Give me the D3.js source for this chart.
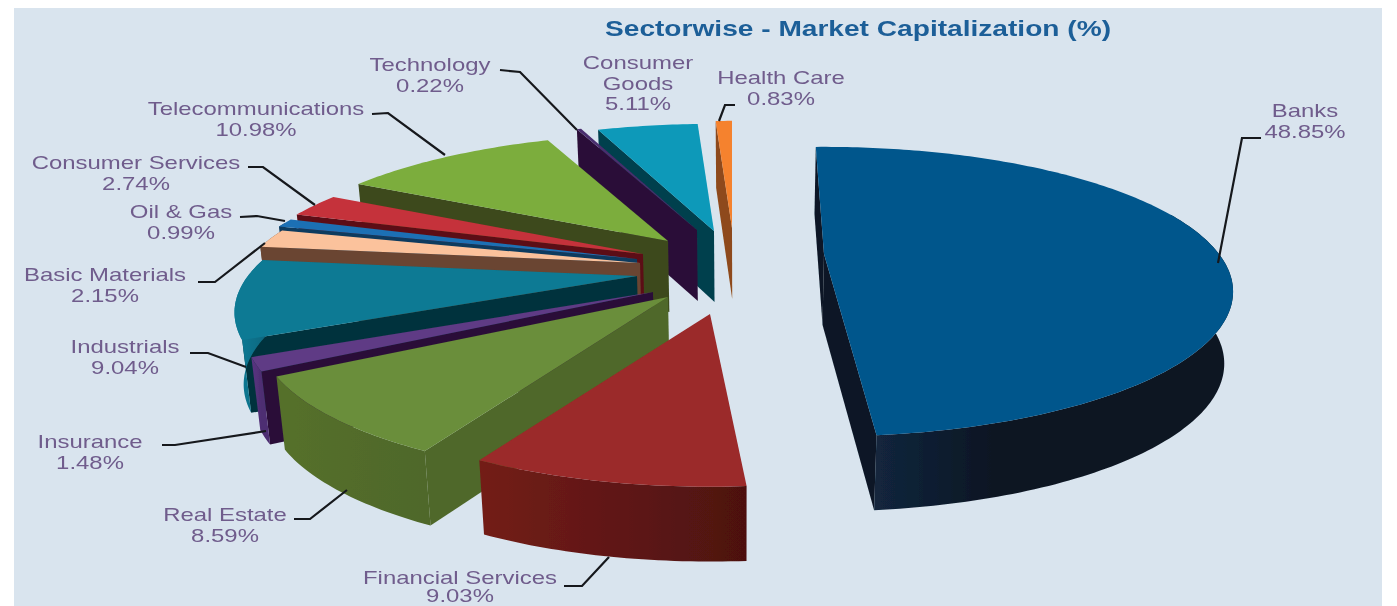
<!DOCTYPE html>
<html>
<head>
<meta charset="utf-8">
<title>Sectorwise - Market Capitalization</title>
<script src="https://cdn.jsdelivr.net/npm/d3@7"></script>
<style>
  html, body { margin: 0; padding: 0; background: #fff; overflow: hidden; }
  text { font-family: "Liberation Sans", Arial, sans-serif; }
</style>
</head>
<body>
<div id="chart"></div>
<script>
// Data, clockwise from twelve o'clock
var sectors = ["Banks", "Financial Services", "Real Estate", "Insurance", "Industrials",
  "Basic Materials", "Oil & Gas", "Consumer Services", "Telecommunications",
  "Technology", "Consumer Goods", "Health Care"];
var shares = [48.85, 9.03, 8.59, 1.48, 9.04, 2.15, 0.99, 2.74, 10.98, 0.22, 5.11, 0.83];

// Slice colours: top face, outer wall (left and right of the gradient), cut wall
var topColors = ["#04568c", "#9b2929", "#6a8e3a", "#5f3a85", "#0a7a94", "#fbc29c",
  "#1f6fb4", "#c5303a", "#7bad3c", "#4a2d6e", "#0899b9", "#f5822f"];
var wallLeft = ["#12253c", "#731d19", "#55702c", "#5a3583", "#0a7c97", "#6b4430",
  "#0d3a5e", "#5c1016", "#3c4a1c", "#2c1138", "#053f4e", "#8e4a1a"];
var wallRight = ["#0b1522", "#4d1110", "#4f6829", "#4e2d72", "#0a6a82", "#6b4430",
  "#0d3a5e", "#5c1016", "#3c4a1c", "#2c1138", "#053f4e", "#8e4a1a"];
var cutColors = ["#0c1828", "#5a1512", "#4f6829", "#2b1038", "#04333c", "#6b4430",
  "#0d3a5e", "#5c1016", "#3c4a1c", "#2c1138", "#053f4e", "#8e4a1a"];

// How far each slice is pulled out of the pie, in pixels, plus small hand corrections
var pieCentre = [730, 270];
var explodeX = [94, -20, -62, -77, -93, -90, -93, -87, -62, -33, -16, 2];
var explodeY = [-16, 44, 27, 22, 6, -7, -11, -16, -29, -40, -39, -42];
var sliceScale = [1, 0.96, 1, 1, 0.985, 1, 1, 1, 1, 1, 1, 1];
var sliceTurn = [-1.5, 0, 0, 0, 0, 0, 0, 0, 0, 0, 0, 0];

// Labels: centre of the text, first baseline, then the leader line
var labelLines = [["Banks"], ["Financial Services"], ["Real Estate"], ["Insurance"], ["Industrials"],
  ["Basic Materials"], ["Oil & Gas"], ["Consumer Services"], ["Telecommunications"],
  ["Technology"], ["Consumer", "Goods"], ["Health Care"]];
var labelX = [1305, 460, 225, 90, 125, 105, 181, 136, 256, 430, 638, 781];
var labelY = [117, 584, 521, 448, 353, 281, 218, 169, 115, 71, 69, 84];
var labelGap = [20.5, 18, 20.5, 20.5, 20.5, 20.5, 20.5, 20.5, 20.5, 20.5, 20.5, 20.5];
var leaders = [
  [[1218, 263], [1242, 138], [1261, 138]],
  [[609, 557], [582, 586], [564, 586]],
  [[347, 490], [310, 519], [294, 519]],
  [[266, 431], [175, 445], [162, 445]],
  [[246, 367], [208, 353], [190, 353]],
  [[265, 243], [215, 282], [198, 282]],
  [[285, 221], [257, 216], [240, 217]],
  [[315, 205], [263, 167], [248, 167]],
  [[445, 155], [388, 113], [372, 114]],
  [[577, 130], [520, 72], [500, 70]],
  [[719, 121], [725, 105], [735, 105]]
];

var width = 1397, height = 606;
var rx = 395, ry = 135, tilt = 0.26, depth = 71;
var wallVanishX = 743, wallConverge = 0.018;

var svg = d3.select("#chart").append("svg")
  .attr("width", width)
  .attr("height", height)
  .style("display", "block");

svg.append("rect")
  .attr("x", 14).attr("y", 8)
  .attr("width", 1368).attr("height", height - 8)
  .attr("fill", "#d9e4ee");

var defs = svg.append("defs");
defs.append("filter").attr("id", "soft")
  .append("feGaussianBlur").attr("stdDeviation", 0.6);
defs.append("filter").attr("id", "softer")
  .append("feGaussianBlur").attr("stdDeviation", 0.35);

var pie = d3.pie().sort(null).value(function(d) { return d; });
var slices = pie(shares);
var line = d3.line();

// Perspective view of a point on the pie disc; h is how far below the top face
var project = function(a, r, i, h) {
  var t = a + sliceTurn[i] * Math.PI / 180;
  var s = r * sliceScale[i];
  var u = Math.sin(t) * s, v = -Math.cos(t) * s, w = 1 - tilt * v;
  var x = pieCentre[0] + explodeX[i] + rx * u / w;
  var y = pieCentre[1] + explodeY[i] + ry * v / w;
  return [x + h * (wallVanishX - x) * wallConverge, y + h * (depth + 4 * v)];
};

// Rim of a slice, keeping only the part that can face the viewer when frontOnly is set
var arcPoints = function(d, i, h, frontOnly) {
  var n = Math.max(2, Math.ceil((d.endAngle - d.startAngle) * 60));
  var angles = d3.range(n + 1).map(function(k) {
    return d.startAngle + (d.endAngle - d.startAngle) * k / n;
  });
  if (frontOnly) {
    angles = angles.filter(function(a) { return Math.cos(a) < 0.3; });
  }
  return angles.map(function(a) { return project(a, 1, i, h); });
};

var pieGroup = svg.append("g").attr("filter", "url(#soft)");

// Back slices first, Banks last
var drawOrder = [11, 10, 9, 8, 7, 6, 5, 4, 3, 2, 1, 0];

drawOrder.forEach(function(i) {
  var d = slices[i];
  var g = pieGroup.append("g").attr("class", "slice");
  var topArc = arcPoints(d, i, 0, false);
  var wallTop = arcPoints(d, i, 0, true);
  var wallBottom = arcPoints(d, i, 1, true);
  var tip = project(0, 0, i, 0), tipLow = project(0, 0, i, 1);

  // The two cut walls, only when they face the viewer
  [d.startAngle, d.endAngle].forEach(function(a, side) {
    var rim = project(a, 1, i, 0), rimLow = project(a, 1, i, 1);
    var facing = side === 0 ? rim[0] < tip[0] : rim[0] > tip[0];
    if (facing) {
      g.append("path")
        .attr("d", line([tip, rim, rimLow, tipLow]) + "Z")
        .attr("fill", cutColors[i]);
    }
  });

  // Outer wall, shaded across its width
  if (wallTop.length > 1) {
    var xs = wallTop.map(function(p) { return p[0]; });
    var grad = defs.append("linearGradient")
      .attr("id", "wall" + i)
      .attr("gradientUnits", "userSpaceOnUse")
      .attr("x1", i === 0 ? 880 : d3.min(xs))
      .attr("x2", i === 0 ? 1000 : d3.max(xs))
      .attr("y1", 0).attr("y2", 0);
    grad.append("stop").attr("offset", 0).attr("stop-color", wallLeft[i]);
    grad.append("stop").attr("offset", 1).attr("stop-color", wallRight[i]);
    g.append("path")
      .attr("d", line(wallTop.concat(wallBottom.slice().reverse())) + "Z")
      .attr("fill", "url(#wall" + i + ")");
  }

  // Top face
  g.append("path")
    .attr("d", line([tip].concat(topArc)) + "Z")
    .attr("fill", topColors[i]);
});

// Leader lines
svg.selectAll("path.leader")
  .data(leaders)
  .enter().append("path")
  .attr("class", "leader")
  .attr("d", line)
  .attr("fill", "none")
  .attr("stroke", "#16181c")
  .attr("stroke-width", 2.2);

// Labels
var textGroup = svg.append("g").attr("filter", "url(#softer)");

sectors.forEach(function(name, i) {
  var rows = labelLines[i].concat([shares[i].toFixed(2) + "%"]);
  rows.forEach(function(row, k) {
    textGroup.append("text")
      .attr("transform", "translate(" + labelX[i] + "," + (labelY[i] + k * labelGap[i]) + ") scale(1.33,1)")
      .attr("text-anchor", "middle")
      .attr("font-size", 18)
      .attr("fill", "#6f5c8c")
      .text(row);
  });
});

textGroup.append("text")
  .attr("transform", "translate(858,36) scale(1.278,1)")
  .attr("text-anchor", "middle")
  .attr("font-size", 22)
  .attr("font-weight", "bold")
  .attr("fill", "#1f5f98")
  .text("Sectorwise - Market Capitalization (%)");
</script>
</body>
</html>
